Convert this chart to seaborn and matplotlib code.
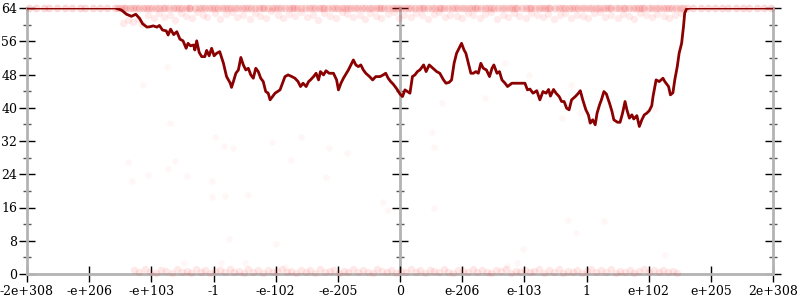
import matplotlib
matplotlib.use("Agg")
import matplotlib.pyplot as plt
import seaborn as sns
from matplotlib.ticker import MultipleLocator

# ---------------- data ----------------
tick_labels = ["-2e+308", "-e+206", "-e+103", "-1", "-e-102", "-e-205", "0",
               "e-206", "e-103", "1", "e+102", "e+205", "2e+308"]
y_ticks = [0, 8, 16, 24, 32, 40, 48, 56, 64]

line_x = [0, 1.42, 1.52, 1.60, 1.68, 1.75, 1.81, 1.86, 1.93, 1.98,
          2.03, 2.09, 2.13, 2.18, 2.24, 2.27, 2.31, 2.36, 2.41, 2.46,
          2.51, 2.56, 2.59, 2.63, 2.68, 2.70, 2.73, 2.77, 2.81, 2.86,
          2.89, 2.93, 2.97, 3.01, 3.05, 3.10, 3.16, 3.21, 3.27, 3.29,
          3.32, 3.36, 3.40, 3.44, 3.48, 3.52, 3.56, 3.60, 3.64, 3.68,
          3.72, 3.76, 3.80, 3.84, 3.88, 3.91, 3.95, 3.99, 4.03, 4.07,
          4.11, 4.15, 4.20, 4.26, 4.31, 4.36, 4.40, 4.44, 4.49, 4.53,
          4.56, 4.61, 4.65, 4.69, 4.72, 4.77, 4.81, 4.86, 4.93, 4.98,
          5.01, 5.05, 5.09, 5.13, 5.17, 5.21, 5.25, 5.29, 5.33, 5.37,
          5.41, 5.45, 5.51, 5.56, 5.61, 5.68, 5.73, 5.77, 5.81, 5.85,
          5.89, 5.95, 6.00, 6.04, 6.08, 6.12, 6.16, 6.20, 6.24, 6.28,
          6.32, 6.38, 6.42, 6.47, 6.53, 6.59, 6.64, 6.70, 6.74, 6.79,
          6.83, 6.87, 6.91, 6.95, 6.99, 7.03, 7.06, 7.10, 7.14, 7.18,
          7.22, 7.26, 7.30, 7.34, 7.39, 7.44, 7.48, 7.51, 7.56, 7.60,
          7.64, 7.69, 7.73, 7.80, 7.88, 7.96, 8.01, 8.05, 8.09, 8.14,
          8.20, 8.25, 8.30, 8.35, 8.39, 8.42, 8.47, 8.51, 8.56, 8.60,
          8.64, 8.68, 8.72, 8.76, 8.82, 8.87, 8.90, 8.94, 8.99, 9.03,
          9.06, 9.10, 9.14, 9.17, 9.21, 9.24, 9.28, 9.32, 9.37, 9.41,
          9.44, 9.50, 9.54, 9.58, 9.62, 9.65, 9.69, 9.73, 9.76, 9.81,
          9.85, 9.89, 9.93, 9.97, 10.01, 10.05, 10.07, 10.12, 10.17, 10.23,
          10.26, 10.32, 10.35, 10.39, 10.42, 10.46, 10.49, 10.53, 10.56, 10.58,
          10.61, 10.66, 12]
line_y = [64, 64, 63.5, 62.5, 62, 62.5, 61.5, 60.2, 59.4, 59.5,
          59.7, 59.4, 59.8, 58.7, 58.5, 57.5, 58.9, 57.6, 58.3, 56.5,
          56.1, 54.3, 55.5, 54.9, 55.1, 53.9, 56.1, 53.3, 52.3, 52.3,
          53.8, 52.5, 54.3, 52.5, 53.1, 53.5, 50.7, 47.5, 45.9, 44.9,
          46.3, 48.3, 49.1, 52.1, 50.3, 49.1, 49.5, 47.9, 47.1, 49.5,
          48.7, 47.1, 46.3, 43.9, 43.5, 41.9, 42.7, 43.5, 43.9, 44.3,
          45.9, 47.5, 47.9, 47.5, 47.1, 46.3, 45.1, 45.9, 45.1, 46.3,
          46.7, 47.5, 48.3, 46.7, 48.7, 47.9, 48.9, 48.3, 48.3, 46.7,
          44.3, 45.9, 47.1, 48.1, 49.1, 50.3, 51.5, 50.3, 49.9, 50.3,
          49.1, 48.3, 47.5, 46.7, 47.5, 47.5, 47.9, 48.3, 47.1, 46.3,
          45.7, 44.5, 43.3, 42.7, 44.3, 43.9, 43.5, 47.5, 47.9, 48.7,
          49.1, 50.3, 48.7, 50.3, 49.5, 48.7, 48.3, 46.7, 45.9, 46.1,
          46.7, 50.7, 53.1, 54.3, 55.5, 53.9, 53.1, 50.7, 48.3, 48.3,
          48.7, 48.3, 50.7, 49.5, 49.1, 47.5, 49.5, 50.3, 48.3, 48.7,
          46.7, 45.9, 45.1, 45.9, 45.9, 45.9, 45.9, 44.3, 44.5, 43.5,
          44.1, 41.9, 43.9, 43.5, 44.4, 42.8, 44.4, 43.5, 42.7, 41.5,
          41.5, 39.9, 39.5, 41.9, 42.7, 43.5, 44.1, 41.9, 39.5, 38.3,
          36.3, 37.1, 35.9, 38.7, 40.7, 41.9, 43.9, 43.3, 41.1, 39.1,
          37.1, 36.5, 36.5, 38.7, 41.5, 39.5, 37.5, 38.3, 37.3, 38.1,
          35.5, 37.1, 38.3, 38.7, 39.3, 40.5, 42.7, 46.7, 46.3, 47.1,
          46.3, 45.1, 43.1, 43.6, 46.7, 49.9, 53.1, 55.5, 59.5, 62.8,
          63.8, 64, 64]

# sample points sitting exactly at the maximum (64)
top_value = 64
top64_x = [0.03, 0.14, 0.27, 0.36, 0.49, 0.61, 0.72, 0.85, 0.93, 1.06,
           1.18, 1.29, 1.41, 1.52, 1.60, 1.71, 1.80, 1.92, 2.01, 2.13,
           2.22, 2.35, 2.44, 2.56, 2.63, 2.77, 2.86, 2.98, 3.07, 3.19,
           3.28, 3.40, 3.51, 3.60, 3.73, 3.82, 3.94, 4.03, 4.15, 4.26,
           4.34, 4.47, 4.58, 4.69, 4.78, 4.90, 5.01, 5.12, 5.21, 5.33,
           5.44, 5.55, 5.66, 5.74, 5.87, 5.96, 6.08, 6.17, 6.30, 6.39,
           6.51, 6.62, 6.70, 6.83, 6.94, 7.05, 7.16, 7.24, 7.37, 7.46,
           7.58, 7.69, 7.80, 7.89, 8.02, 8.11, 8.23, 8.34, 8.42, 8.55,
           8.66, 8.77, 8.86, 8.98, 9.09, 9.20, 9.31, 9.40, 9.53, 9.62,
           9.74, 9.85, 9.93, 10.06, 10.17, 10.28, 10.37, 10.50, 10.61, 10.72,
           10.84, 10.95, 11.07, 11.18, 11.27, 11.40, 11.51, 11.62, 11.74, 11.85,
           11.96,
           1.47, 1.56, 1.66, 1.76, 1.86, 1.97, 2.07, 2.18, 2.29, 2.40,
           2.50, 2.60, 2.70, 2.82, 2.92, 3.03, 3.13, 3.24, 3.34, 3.46,
           3.56, 3.67, 3.78, 3.88, 3.99, 4.09, 4.21, 4.30, 4.41, 4.53,
           4.64, 4.74, 4.84, 4.96, 5.07, 5.17, 5.27, 5.39, 5.50, 5.61,
           5.70, 5.81, 5.92, 6.02, 6.13, 6.24, 6.35, 6.45, 6.57, 6.66,
           6.77, 6.89, 7.00, 7.11, 7.20, 7.31, 7.42, 7.52, 7.64, 7.75,
           7.85, 7.96, 8.07, 8.17, 8.29, 8.38, 8.49, 8.61, 8.72, 8.82,
           8.92, 9.04, 9.15, 9.26, 9.36, 9.47, 9.58, 9.68, 9.80, 9.89,
           10.00, 10.12, 10.23, 10.33, 10.44, 10.55]

# sample points just below the maximum
topband_x = [1.55, 1.62, 1.70, 1.78, 1.85, 1.95, 2.05, 2.12, 2.20, 2.30,
             2.38, 2.47, 2.55, 2.66, 2.74, 2.83, 2.90, 3.02, 3.10, 3.20,
             3.30, 3.38, 3.47, 3.58, 3.66, 3.75, 3.85, 3.93, 4.04, 4.12,
             4.22, 4.31, 4.40, 4.50, 4.60, 4.68, 4.77, 4.88, 4.97, 5.06,
             5.15, 5.25, 5.35, 5.43, 5.52, 5.62, 5.70, 5.80, 5.90, 5.99,
             6.07, 6.17, 6.26, 6.35, 6.45, 6.55, 6.63, 6.72, 6.81, 6.91,
             7.00, 7.10, 7.18, 7.28, 7.37, 7.46, 7.56, 7.65, 7.74, 7.83,
             7.92, 8.02, 8.10, 8.20, 8.30, 8.38, 8.47, 8.57, 8.66, 8.75,
             8.84, 8.94, 9.03, 9.12, 9.21, 9.30, 9.40, 9.50, 9.58, 9.68,
             9.77, 9.86, 9.95, 10.05, 10.14, 10.24, 10.33, 10.42, 10.52]
topband_y = [60.3, 61.0, 60.6, 61.4, 60.1, 62.2, 61.5, 62.8, 61.9, 62.4,
             61.2, 62.9, 62.0, 61.6, 63.1, 62.3, 61.8, 62.7, 61.3, 62.5,
             63.0, 61.9, 62.2, 61.4, 62.8, 62.1, 61.7, 63.2, 62.4, 61.5,
             62.6, 62.0, 63.0, 61.8, 62.3, 61.2, 62.7, 62.1, 61.6, 63.1,
             62.5, 61.9, 62.2, 61.4, 62.9, 62.0, 61.7, 62.6, 63.0, 61.5,
             62.3, 61.9, 62.8, 62.2, 61.3, 62.6, 63.1, 61.8, 62.4, 62.0,
             61.6, 62.9, 62.2, 61.7, 62.5, 63.0, 61.4, 62.3, 61.9, 62.7,
             62.1, 61.5, 62.8, 62.4, 61.8, 62.6, 61.3, 62.2, 62.9, 61.7,
             62.4, 62.0, 61.5, 62.7, 63.0, 61.9, 62.3, 61.6, 62.5, 62.1,
             61.4, 62.8, 62.2, 61.8, 62.6, 62.0, 61.7, 62.4, 62.9]

# sample points near zero
bottom_x = [1.72, 1.80, 1.90, 1.98, 2.07, 2.16, 2.24, 2.33, 2.41, 2.50,
            2.57, 2.64, 2.72, 2.80, 2.87, 2.95, 3.03, 3.10, 3.18, 3.26,
            3.33, 3.41, 3.49, 3.56, 3.64, 3.72, 3.79, 3.87, 3.95, 4.02,
            4.10, 4.18, 4.25, 4.33, 4.41, 4.48, 4.56, 4.64, 4.71, 4.79,
            4.87, 4.94, 5.02, 5.10, 5.17, 5.25, 5.33, 5.40, 5.48, 5.56,
            5.63, 5.71, 5.79, 5.86, 5.94, 6.02, 6.09, 6.17, 6.25, 6.32,
            6.40, 6.48, 6.55, 6.63, 6.71, 6.78, 6.86, 6.94, 7.01, 7.09,
            7.17, 7.24, 7.32, 7.40, 7.47, 7.55, 7.63, 7.70, 7.78, 7.86,
            7.93, 8.01, 8.09, 8.16, 8.24, 8.32, 8.39, 8.47, 8.55, 8.62,
            8.70, 8.78, 8.85, 8.93, 9.01, 9.08, 9.16, 9.24, 9.31, 9.39,
            9.47, 9.54, 9.62, 9.70, 9.77, 9.85, 9.93, 10.00, 10.08, 10.16,
            10.23, 10.31, 10.39, 10.46]
bottom_y = [0.9, 0.4, 1.1, 0.6, 0.3, 1.0, 0.7, 0.2, 1.2, 0.5,
            0.8, 0.3, 1.1, 0.6, 0.9, 0.2, 0.7, 1.0, 0.4, 1.2,
            0.5, 0.8, 0.3, 1.1, 0.6, 0.9, 0.2, 1.0, 0.4, 0.7,
            1.2, 0.5, 0.8, 0.3, 1.0, 0.6, 0.9, 0.2, 1.1, 0.4,
            0.7, 1.0, 0.3, 0.8, 0.5, 1.2, 0.4, 0.9, 0.6, 0.2,
            1.1, 0.7, 0.4, 1.0, 0.3, 0.8, 0.6, 1.2, 0.5, 0.9,
            0.2, 1.0, 0.7, 0.4, 1.1, 0.6, 0.3, 0.9, 0.8, 0.5,
            1.2, 0.4, 0.9, 0.6, 0.2, 1.0, 0.7, 1.1, 0.3, 0.8,
            0.5, 1.0, 0.4, 0.7, 1.2, 0.3, 0.9, 0.6, 1.1, 0.2,
            0.8, 0.5, 1.0, 0.3, 0.7, 1.2, 0.4, 0.9, 0.6, 1.1,
            0.3, 0.8, 0.5, 1.0, 0.2, 0.7, 1.1, 0.4, 0.9, 0.6,
            1.0, 0.5, 0.8, 0.3]

# sparse points in the middle of the range
mid_x = [1.87, 2.30, 3.02, 3.17, 3.31, 3.94, 4.41, 4.86, 5.15, 1.62,
         2.38, 2.27, 4.25, 1.69, 1.95, 2.57, 2.98, 4.81, 2.98, 3.18,
         3.55, 7.69, 8.07, 6.68, 7.37, 6.51, 6.55, 5.73, 5.81, 6.55,
         8.70, 9.28, 8.83, 7.98, 7.88, 7.72, 10.26, 3.25, 4.01, 2.53,
         3.12, 3.51, 4.15, 2.25, 8.75, 8.90, 8.61, 10.10]
mid_y = [45.5, 36.3, 33.0, 30.8, 30.3, 31.8, 33.0, 30.3, 29.1, 27.0,
         27.2, 25.3, 27.4, 22.4, 23.8, 23.6, 22.4, 23.3, 18.5, 18.8,
         19.0, 50.8, 47.9, 41.1, 42.3, 34.2, 30.6, 17.3, 15.4, 15.9,
         13.0, 12.8, 9.9, 6.0, 2.6, 1.9, 4.6, 8.4, 7.2, 2.6,
         2.6, 2.6, 1.7, 49.8, 45.5, 38.7, 37.5, 39.7]

# ---------------- style ----------------
sns.set_theme(style="white")
plt.rcParams["font.family"] = ["DejaVu Serif"]
plt.rcParams["text.color"] = "black"

SPINE = "#b3b3b3"
fig = plt.figure(figsize=(8, 3), dpi=100)
ax = fig.add_axes([27 / 800, 26 / 300, 746 / 800, 266 / 300])

# middle axis (at x = 0 of the float range)
ax_mid = ax.twinx()
ax_mid.set_ylim(0, 64)
for s in ["top", "bottom", "right"]:
    ax_mid.spines[s].set_visible(False)
ax_mid.spines["left"].set_visible(True)
ax_mid.spines["left"].set_position(("data", 6))
ax_mid.spines["left"].set_color(SPINE)
ax_mid.spines["left"].set_linewidth(2)
ax_mid.yaxis.set_ticks_position("left")
ax_mid.set_yticks(y_ticks)
ax_mid.yaxis.set_minor_locator(MultipleLocator(4))
ax_mid.tick_params(axis="y", which="major", direction="inout", length=12,
                   width=1, color="black", labelleft=False, labelright=False)
ax_mid.tick_params(axis="y", which="minor", direction="inout", length=6,
                   width=1, color="#555555")
ax_mid.set_zorder(0)
ax.set_zorder(1)
ax.patch.set_visible(False)

red = "#ff0000"
sns.scatterplot(x=top64_x, y=[top_value] * len(top64_x), ax=ax, color="#e81818",
                alpha=0.16, s=30, linewidth=0, clip_on=False, zorder=3)
sns.scatterplot(x=topband_x, y=topband_y, ax=ax, color=red, alpha=0.08, s=28,
                linewidth=0, clip_on=False, zorder=3)
sns.scatterplot(x=bottom_x, y=bottom_y, ax=ax, color=red, alpha=0.09, s=28,
                linewidth=0, clip_on=False, zorder=3)
sns.scatterplot(x=mid_x, y=mid_y, ax=ax, color=red, alpha=0.035, s=22,
                linewidth=0, clip_on=False, zorder=3)
sns.lineplot(x=line_x, y=line_y, ax=ax, color="#8b0000", linewidth=2.0,
             estimator=None, sort=False, zorder=4)

ax.set_xlim(0, 12)
ax.set_ylim(0, 64)
ax.set_xticks(range(len(tick_labels)))
ax.set_xticklabels(tick_labels)
ax.set_yticks(y_ticks)
ax.set_yticklabels([str(v) for v in y_ticks])
ax.yaxis.set_minor_locator(MultipleLocator(4))

ax.spines["top"].set_visible(False)
for s in ["left", "bottom", "right"]:
    ax.spines[s].set_visible(True)
    ax.spines[s].set_color(SPINE)
    ax.spines[s].set_linewidth(2)

ax.tick_params(axis="both", which="major", direction="inout", length=12,
               width=1, color="black", labelsize=9, labelcolor="black")
ax.tick_params(axis="y", which="major", left=True, right=True,
               labelleft=True, labelright=False, pad=1)
ax.tick_params(axis="y", which="minor", direction="inout", length=6,
               width=1, color="#555555", left=True, right=True)
ax.tick_params(axis="x", which="major", bottom=True, top=False, pad=2)
ax.set_xlabel("")
ax.set_ylabel("")
ax.grid(False)

fig.savefig("out.png", dpi=100, facecolor="white")
